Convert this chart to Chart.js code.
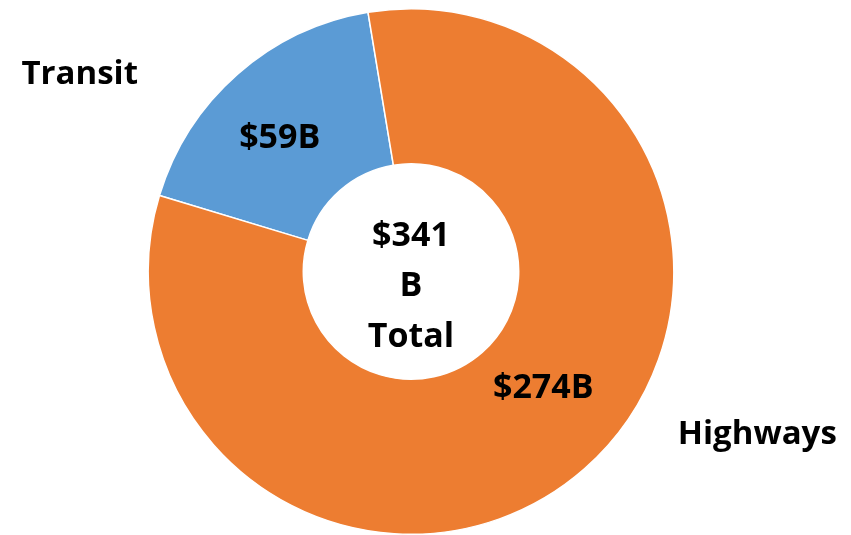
<!DOCTYPE html>
<html>
<head>
<meta charset="utf-8">
<script src="https://cdn.jsdelivr.net/npm/chart.js@4.4.0/dist/chart.umd.min.js"></script>
<style>
    html, body { margin: 0; padding: 0; background: #ffffff; }
    #wrap { position: relative; width: 851px; height: 535px; }
</style>
</head>
<body>
<div id="wrap"><canvas id="funding-chart"></canvas></div>
<script>
// Funding split, billions of dollars
const categories = ['Transit', 'Highways'];
const amounts = [59, 274];
const sliceColors = ['#5B9BD5', '#ED7D31'];
const centerLines = ['$341', 'B', 'Total'];

// Baseline positions of the value and name labels relative to each slice centroid
const valueOffsets = [[-9, 16], [10, -13]];
const nameOffsets = [[-209, -48], [224, 33]];

function formatAmount(v) {
    return '$' + v + 'B';
}

// Draws the value labels, the category names and the text in the hole
const labelPlugin = {
    id: 'sliceLabels',
    afterDatasetsDraw(chart) {
        const ctx = chart.ctx;
        const meta = chart.getDatasetMeta(0);
        ctx.save();
        ctx.fillStyle = '#000000';
        ctx.textAlign = 'center';
        ctx.textBaseline = 'alphabetic';

        meta.data.forEach(function(arc, i) {
            const pos = arc.tooltipPosition();
            ctx.font = 'bold 34px "Open Sans", Lato, sans-serif';
            ctx.fillText(formatAmount(amounts[i]), pos.x + valueOffsets[i][0], pos.y + valueOffsets[i][1]);
            ctx.font = 'bold 33px "Open Sans", Lato, sans-serif';
            ctx.fillText(categories[i], pos.x + nameOffsets[i][0], pos.y + nameOffsets[i][1]);
        });

        // total in the middle of the ring
        const cx = meta.data[0].x;
        const cy = meta.data[0].y;
        ctx.font = 'bold 34px "Open Sans", Lato, sans-serif';
        const lineHeight = 50.5;
        centerLines.forEach(function(line, i) {
            ctx.fillText(line, cx, cy - 26 + i * lineHeight);
        });
        ctx.restore();
    }
};

const chart = new Chart(document.getElementById('funding-chart'), {
    type: 'doughnut',
    data: {
        labels: categories,
        datasets: [{
            data: amounts,
            backgroundColor: sliceColors,
            borderColor: '#ffffff',
            borderWidth: 1.5,
            hoverOffset: 0
        }]
    },
    options: {
        responsive: true,
        maintainAspectRatio: false,
        animation: false,
        rotation: -73.2,
        cutout: '41%',
        layout: {
            padding: { left: 147, right: 176, top: 8, bottom: 0 }
        },
        plugins: {
            legend: { display: false },
            tooltip: { enabled: false }
        }
    },
    plugins: [labelPlugin]
});
</script>
</body>
</html>
